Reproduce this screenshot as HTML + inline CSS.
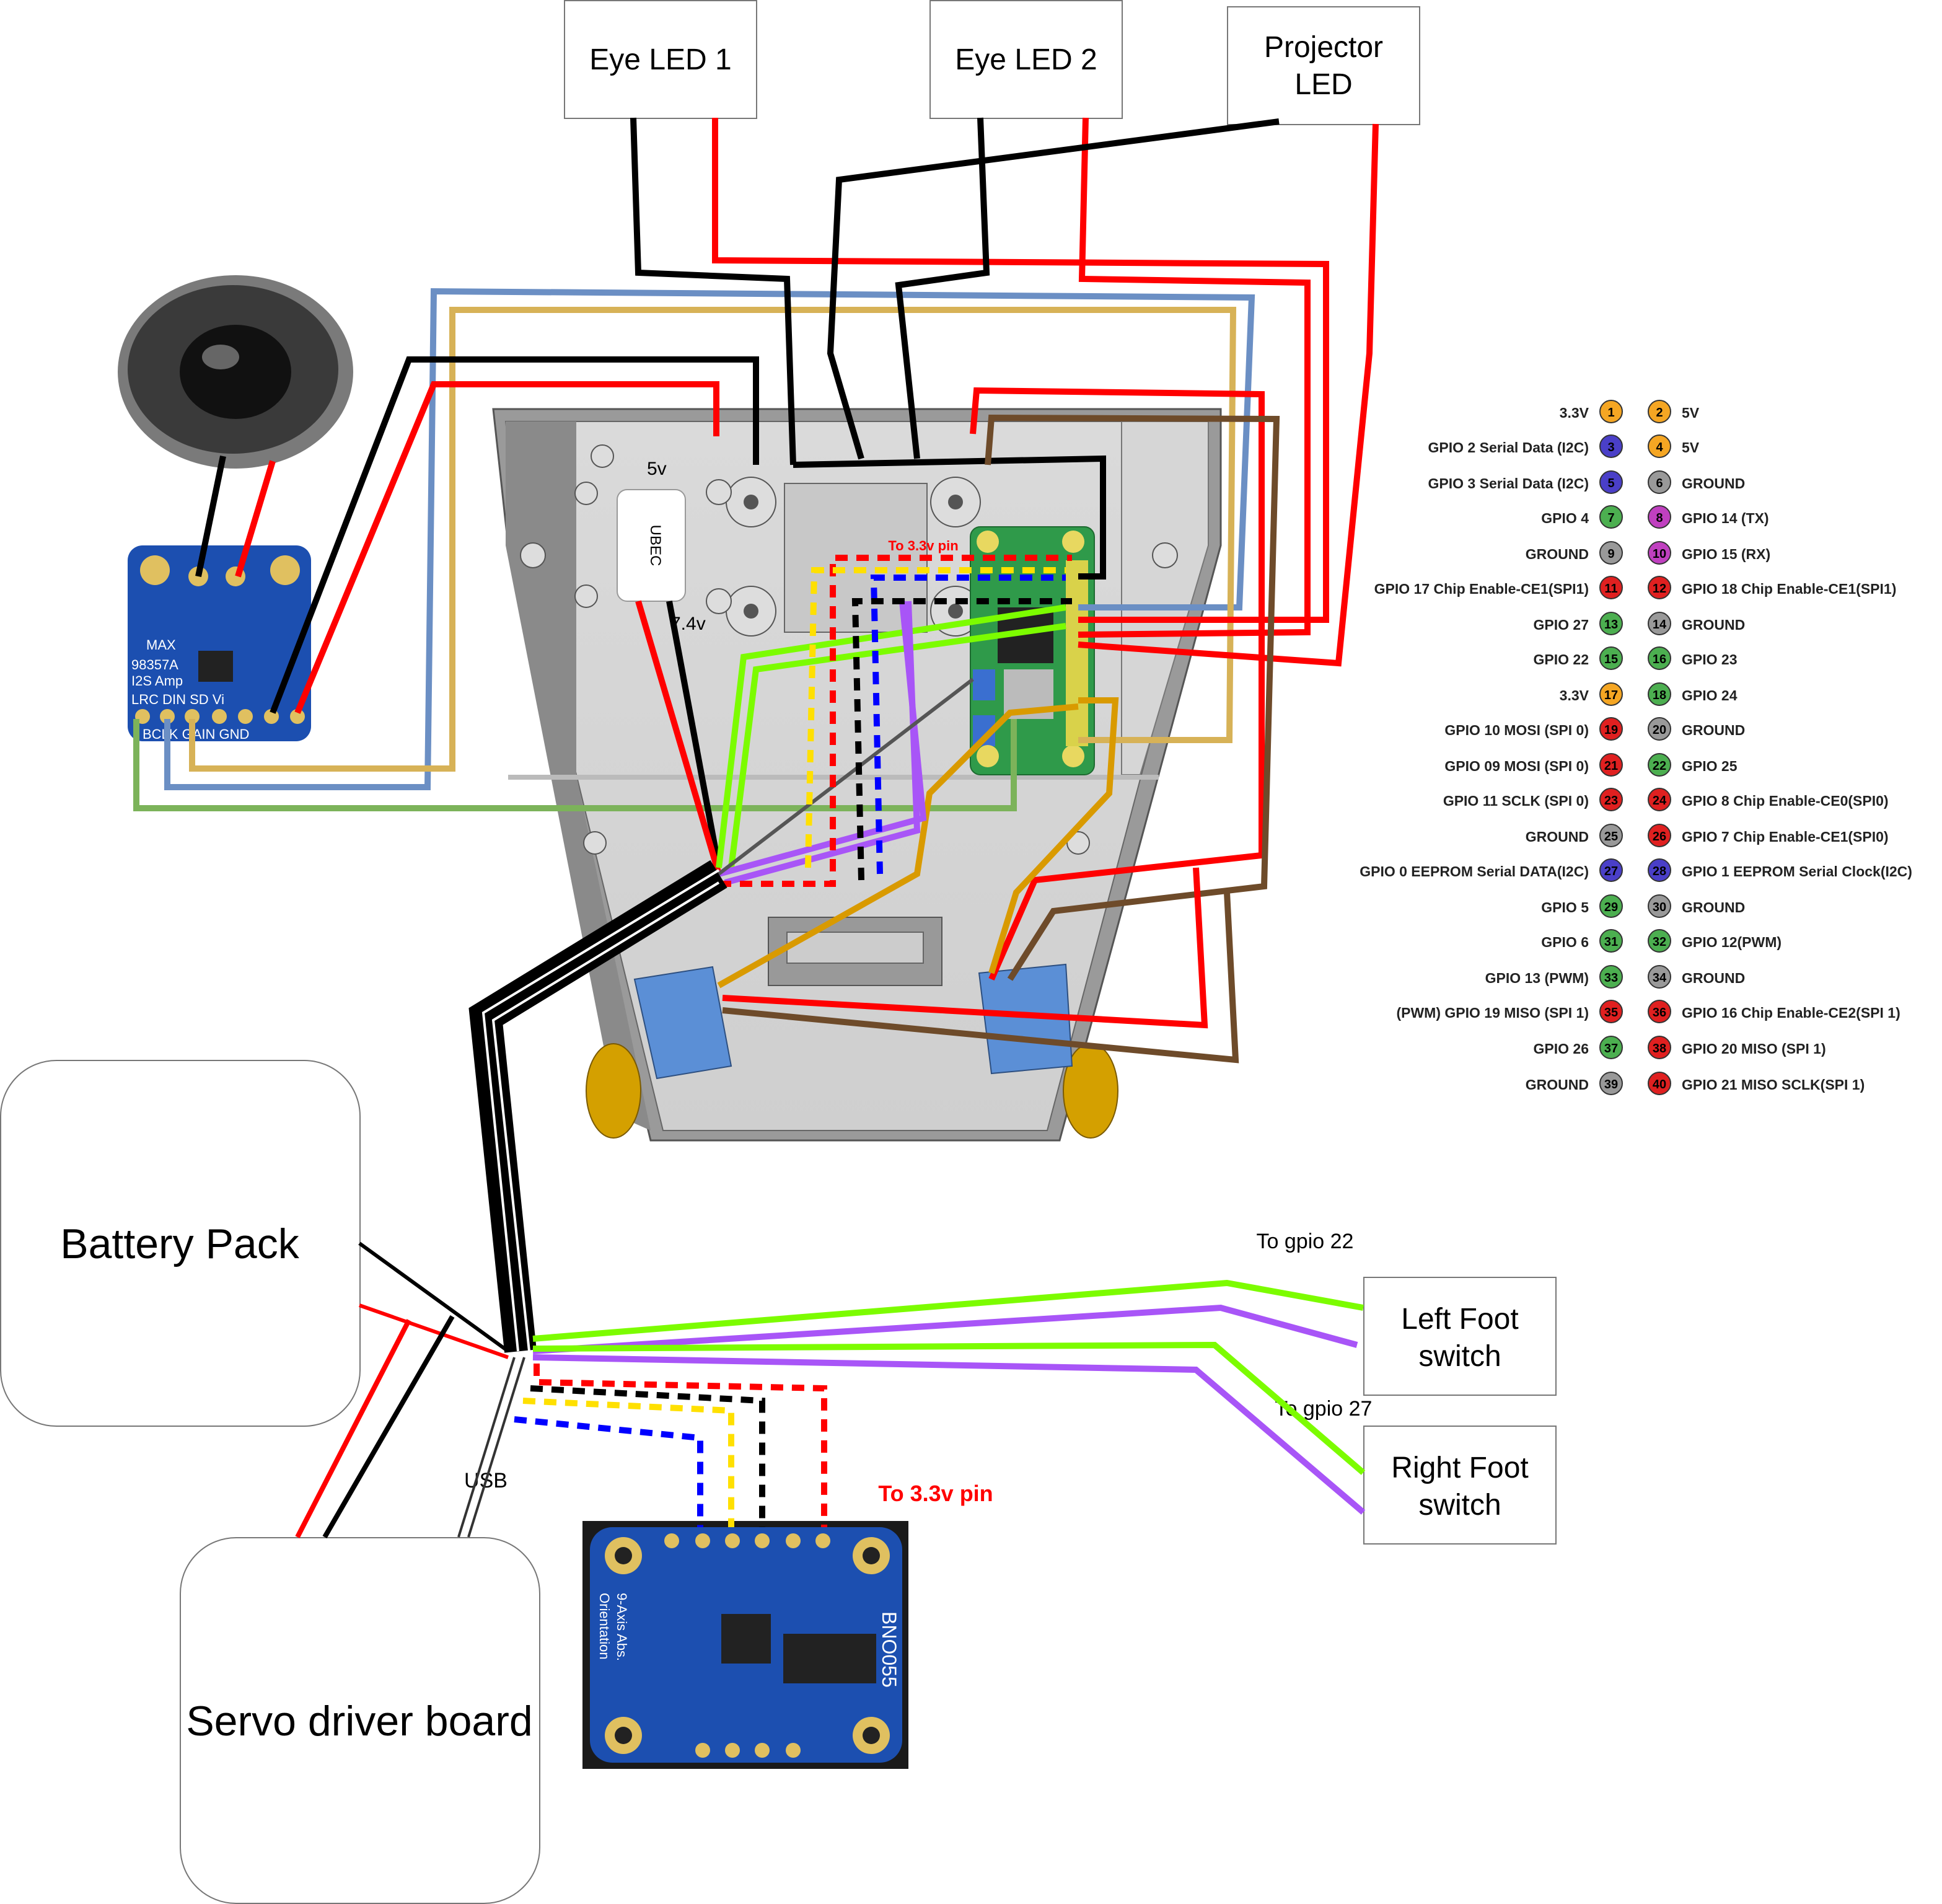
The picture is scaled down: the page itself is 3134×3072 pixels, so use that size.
<!DOCTYPE html>
<html><head><meta charset="utf-8"><style>
html,body{margin:0;padding:0;background:#fff}
svg{display:block}
text{font-family:"Liberation Sans",sans-serif}
.pl{font-size:11.5px;font-weight:bold;fill:#222}
.pn{font-size:10px;font-weight:bold;fill:#000}
</style></head><body>
<svg width="3134" height="3072" viewBox="0 0 1567 1536" xmlns="http://www.w3.org/2000/svg">
<defs>
<linearGradient id="g1" x1="0" y1="0" x2="0" y2="1"><stop offset="0" stop-color="#dadada"/><stop offset="1" stop-color="#cfcfcf"/></linearGradient>
</defs>
<rect width="1567" height="1536" fill="#fff"/>

<!-- Robot body -->
<polygon points="398,330 985,330 985,440 855,920 525,920 410,440" fill="#9a9a9a" stroke="#555" stroke-width="1.5"/>
<polygon points="408,340 975,340 970,440 845,912 535,912 420,440" fill="url(#g1)" stroke="#666"/>
<polygon points="408,340 465,340 465,625 525,912 498,900 408,440" fill="#8a8a8a"/>
<polygon points="905,340 975,340 975,440 920,625 905,625" fill="#d6d6d6" stroke="#777"/>
<rect x="410" y="625" width="525" height="4" fill="#bbb"/>
<rect x="620" y="740" width="140" height="55" fill="#999" stroke="#555"/>
<rect x="635" y="752" width="110" height="25" fill="#ccc" stroke="#666"/>
<rect x="633" y="390" width="115" height="120" fill="#c8c8c8" stroke="#666"/>
<g fill="#ddd" stroke="#555">
<circle cx="606" cy="405" r="20"/><circle cx="771" cy="405" r="20"/><circle cx="606" cy="493" r="20"/><circle cx="771" cy="493" r="20"/>
<circle cx="580" cy="397" r="10"/><circle cx="580" cy="485" r="10"/><circle cx="473" cy="398" r="9"/><circle cx="473" cy="481" r="9"/>
<circle cx="486" cy="368" r="9"/><circle cx="430" cy="448" r="10"/><circle cx="940" cy="448" r="10"/><circle cx="480" cy="680" r="9"/><circle cx="870" cy="680" r="9"/>
</g>
<g fill="#555"><circle cx="606" cy="405" r="6"/><circle cx="771" cy="405" r="6"/><circle cx="606" cy="493" r="6"/><circle cx="771" cy="493" r="6"/></g>
<!-- wheels -->
<ellipse cx="495" cy="880" rx="22" ry="38" fill="#d4a000" stroke="#7a5a00"/>
<ellipse cx="880" cy="880" rx="22" ry="38" fill="#d4a000" stroke="#7a5a00"/>
<!-- servos -->
<polygon points="512,790 575,780 590,860 530,870" fill="#5b8fd6" stroke="#2d4f80"/>
<polygon points="790,785 860,778 865,860 800,866" fill="#5b8fd6" stroke="#2d4f80"/>

<!-- UBEC -->
<rect x="498" y="395" width="55" height="90" rx="8" fill="#fff" stroke="#999"/>
<text x="525" y="440" font-size="12" text-anchor="middle" transform="rotate(90 525 440)">UBEC</text>
<text x="522" y="383" font-size="15">5v</text>
<text x="541" y="508" font-size="15">7.4v</text>

<!-- Pi zero -->
<rect x="783" y="425" width="100" height="200" rx="8" fill="#2f9a4a" stroke="#1d6a30"/>
<rect x="805" y="490" width="45" height="45" fill="#222"/>
<rect x="810" y="540" width="40" height="40" fill="#bbb"/>
<rect x="785" y="540" width="18" height="25" fill="#3a6fd0"/><rect x="785" y="577" width="18" height="25" fill="#3a6fd0"/>
<g fill="#e8d860"><circle cx="797" cy="437" r="9"/><circle cx="866" cy="437" r="9"/><circle cx="797" cy="610" r="9"/><circle cx="866" cy="610" r="9"/></g>
<rect x="860" y="452" width="18" height="150" fill="#d9d24a"/>

<!-- Speaker -->
<ellipse cx="190" cy="300" rx="95" ry="78" fill="#7a7a7a"/>
<ellipse cx="188" cy="298" rx="85" ry="68" fill="#3a3a3a"/>
<ellipse cx="190" cy="300" rx="45" ry="38" fill="#111"/>
<ellipse cx="178" cy="288" rx="15" ry="10" fill="#666"/>

<!-- Amp board -->
<rect x="103" y="440" width="148" height="158" rx="12" fill="#1c4fb0"/>
<g fill="#e0c060"><circle cx="125" cy="460" r="12"/><circle cx="230" cy="460" r="12"/><circle cx="160" cy="465" r="8"/><circle cx="190" cy="465" r="8"/></g>
<rect x="160" y="525" width="28" height="25" fill="#222"/>
<g fill="#fff" font-family="Liberation Mono" font-size="11"><text x="118" y="524">MAX</text><text x="106" y="540">98357A</text><text x="106" y="553">I2S Amp</text><text x="106" y="568">LRC  DIN  SD   Vi</text><text x="115" y="596">BCLK GAIN  GND</text></g>
<g fill="#e0c060"><circle cx="115" cy="578" r="6"/><circle cx="135" cy="578" r="6"/><circle cx="155" cy="578" r="6"/><circle cx="177" cy="578" r="6"/><circle cx="198" cy="578" r="6"/><circle cx="219" cy="578" r="6"/><circle cx="240" cy="578" r="6"/></g>

<!-- BNO055 -->
<rect x="470" y="1227" width="263" height="200" fill="#1a1a1a"/>
<rect x="476" y="1232" width="252" height="190" rx="18" fill="#1c4fb0"/>
<g fill="#e0c060"><circle cx="503" cy="1255" r="15"/><circle cx="703" cy="1255" r="15"/><circle cx="503" cy="1400" r="15"/><circle cx="703" cy="1400" r="15"/></g>
<g fill="#222"><circle cx="503" cy="1255" r="7"/><circle cx="703" cy="1255" r="7"/><circle cx="503" cy="1400" r="7"/><circle cx="703" cy="1400" r="7"/></g>
<rect x="582" y="1302" width="40" height="40" fill="#222"/><rect x="632" y="1318" width="75" height="40" fill="#222"/>
<g fill="#e0c060"><circle cx="542" cy="1243" r="6"/><circle cx="567" cy="1243" r="6"/><circle cx="591" cy="1243" r="6"/><circle cx="615" cy="1243" r="6"/><circle cx="640" cy="1243" r="6"/><circle cx="664" cy="1243" r="6"/>
<circle cx="567" cy="1412" r="6"/><circle cx="591" cy="1412" r="6"/><circle cx="615" cy="1412" r="6"/><circle cx="640" cy="1412" r="6"/></g>
<text x="712" y="1300" fill="#fff" font-size="16" transform="rotate(90 712 1300)">BNO055</text>
<text x="498" y="1285" fill="#fff" font-size="11" font-family="Liberation Mono" transform="rotate(90 498 1285)">9-Axis Abs.</text>
<text x="484" y="1285" fill="#fff" font-size="11" font-family="Liberation Mono" transform="rotate(90 484 1285)">Orientation</text>

<!-- Boxes -->
<g fill="#fff" stroke="#777" stroke-width="1">
<rect x="455.5" y="0.5" width="155" height="95"/>
<rect x="750.5" y="0.5" width="155" height="95"/>
<rect x="990.5" y="5.5" width="155" height="95"/>
<rect x="1100.5" y="1030.5" width="155" height="95"/>
<rect x="1100.5" y="1150.5" width="155" height="95"/>
<rect x="0.5" y="855.5" width="290" height="295" rx="45"/>
<rect x="145.5" y="1240.5" width="290" height="295" rx="45"/>
</g>
<g font-size="24" text-anchor="middle" fill="#000">
<text x="533" y="56">Eye LED 1</text><text x="828" y="56">Eye LED 2</text>
<text x="1068" y="46">Projector</text><text x="1068" y="76">LED</text>
<text x="1178" y="1072">Left Foot</text><text x="1178" y="1102">switch</text>
<text x="1178" y="1192">Right Foot</text><text x="1178" y="1222">switch</text>
</g>
<text x="145" y="1015" font-size="34" text-anchor="middle">Battery Pack</text>
<text x="290" y="1400" font-size="34" text-anchor="middle">Servo driver board</text>
<text x="1053" y="1007" font-size="17" text-anchor="middle">To gpio 22</text>
<text x="1068" y="1142" font-size="17" text-anchor="middle">To gpio 27</text>
<text x="392" y="1200" font-size="17" text-anchor="middle">USB</text>
<text x="755" y="1211" font-size="18" font-weight="bold" fill="#f00" text-anchor="middle">To 3.3v pin</text>
<text x="745" y="444" font-size="11" font-weight="bold" fill="#f00" text-anchor="middle">To 3.3v pin</text>

<!-- Wires -->
<g fill="none" stroke-width="5" stroke-linejoin="miter">
<polyline stroke="#6b8fc4" points="870,490 1000,490 1010,240 350,235 345,635 135,635 135,580"/>
<polyline stroke="#d7b257" points="870,597 992,597 995,250 365,250 365,620 155,620 155,580"/>
<polyline stroke="#7cb35a" points="110,580 110,652 818,652 818,580"/>
<polyline stroke="#000" points="511,95 515,220 635,225 640,375"/>
<polyline stroke="#f00" points="577,95 577,210 1070,213 1070,500 870,500"/>
<polyline stroke="#000" points="791,95 796,220 725,230 740,370"/>
<polyline stroke="#f00" points="876,95 873,225 1055,228 1055,510 870,512"/>
<polyline stroke="#000" points="1032,98 677,145 670,285 695,370"/>
<polyline stroke="#f00" points="1110,100 1105,285 1080,535 870,520"/>
<polyline stroke="#000" points="610,375 610,290 330,290 220,575"/>
<polyline stroke="#f00" points="240,575 350,310 578,310 578,352"/>
<polyline stroke="#000" points="640,375 890,370 890,465 870,465"/>
<polyline stroke="#f00" points="785,350 788,315 1018,318 1018,690 835,710 800,790"/>
<polyline stroke="#6e4b2a" points="797,375 800,337 1030,338 1020,715 850,735 815,790"/>
<polyline stroke="#f00" points="583,805 972,827 965,700"/>
<polyline stroke="#6e4b2a" points="583,815 997,855 990,720"/>
<polyline stroke="#000" points="540,485 580,700"/>
<polyline stroke="#f00" points="515,485 580,705"/>
<polyline stroke="#d99a00" points="580,795 740,705 750,640 815,575 870,570"/>
<polyline stroke="#d99a00" points="800,785 820,720 895,640 900,565 870,565"/>
<polyline stroke="#7cfc00" points="580,700 600,530 860,490"/>
<polyline stroke="#7cfc00" points="590,700 610,540 860,505"/>
<polyline stroke="#a855f7" points="580,705 745,660 728,485"/>
<polyline stroke="#a855f7" points="585,712 740,670 733,485"/>
<polyline stroke="#555" stroke-width="3" points="580,705 785,548"/>
<g stroke-dasharray="10,7">
<polyline stroke="#f00" points="580,713 672,713 672,450 865,450"/>
<polyline stroke="#ffe000" points="652,700 657,460 860,460"/>
<polyline stroke="#00f" points="710,705 705,466 860,466"/>
<polyline stroke="#000" points="695,710 690,485 865,485"/>
<polyline stroke="#f00" points="433,1100 433,1115 665,1120 665,1232"/>
<polyline stroke="#000" points="428,1120 615,1130 615,1232"/>
<polyline stroke="#ffe000" points="422,1130 590,1138 590,1232"/>
<polyline stroke="#00f" points="415,1145 565,1160 565,1232"/>
</g>
<!-- thick cable -->
<polyline stroke="#000" stroke-width="26" points="580,705 392,820 420,1090"/>
<polyline stroke="#fff" stroke-width="2" points="580,702 390,817 418,1090"/>
<polyline stroke="#fff" stroke-width="2" points="580,712 398,823 427,1090"/>
<polyline stroke="#000" stroke-width="3" points="290,1003 410,1090"/>
<polyline stroke="#f00" stroke-width="3" points="290,1053 410,1095"/>
<polyline stroke="#f00" stroke-width="4" points="240,1240 330,1065"/>
<polyline stroke="#000" stroke-width="4" points="262,1240 365,1062"/>
<polyline stroke="#333" stroke-width="2" points="370,1240 415,1095"/>
<polyline stroke="#333" stroke-width="2" points="378,1240 423,1095"/>
<polyline stroke="#a855f7" points="1095,1085 985,1055 430,1090"/>
<polyline stroke="#7cfc00" points="1100,1055 990,1035 430,1080"/>
<polyline stroke="#7cfc00" points="1100,1188 980,1085 430,1088"/>
<polyline stroke="#a855f7" points="1100,1220 965,1105 430,1095"/>
</g>
<line x1="180" y1="368" x2="160" y2="465" stroke="#000" stroke-width="5"/>
<line x1="220" y1="372" x2="192" y2="465" stroke="#f00" stroke-width="5"/>

<!-- Pinout -->
<g>
<g class="pl" text-anchor="end">
<text x="1282" y="337">3.3V</text><text x="1282" y="365">GPIO 2 Serial Data (I2C)</text><text x="1282" y="394">GPIO 3 Serial Data (I2C)</text><text x="1282" y="422">GPIO 4</text><text x="1282" y="451">GROUND</text><text x="1282" y="479">GPIO 17 Chip Enable-CE1(SPI1)</text><text x="1282" y="508">GPIO 27</text><text x="1282" y="536">GPIO 22</text><text x="1282" y="565">3.3V</text><text x="1282" y="593">GPIO 10 MOSI (SPI 0)</text><text x="1282" y="622">GPIO 09 MOSI (SPI 0)</text><text x="1282" y="650">GPIO 11 SCLK (SPI 0)</text><text x="1282" y="679">GROUND</text><text x="1282" y="707">GPIO 0 EEPROM Serial DATA(I2C)</text><text x="1282" y="736">GPIO 5</text><text x="1282" y="764">GPIO 6</text><text x="1282" y="793">GPIO 13 (PWM)</text><text x="1282" y="821">(PWM) GPIO 19 MISO (SPI 1)</text><text x="1282" y="850">GPIO 26</text><text x="1282" y="879">GROUND</text>
</g>
<g class="pl">
<text x="1357" y="337">5V</text><text x="1357" y="365">5V</text><text x="1357" y="394">GROUND</text><text x="1357" y="422">GPIO 14 (TX)</text><text x="1357" y="451">GPIO 15 (RX)</text><text x="1357" y="479">GPIO 18 Chip Enable-CE1(SPI1)</text><text x="1357" y="508">GROUND</text><text x="1357" y="536">GPIO 23</text><text x="1357" y="565">GPIO 24</text><text x="1357" y="593">GROUND</text><text x="1357" y="622">GPIO 25</text><text x="1357" y="650">GPIO 8 Chip Enable-CE0(SPI0)</text><text x="1357" y="679">GPIO 7 Chip Enable-CE1(SPI0)</text><text x="1357" y="707">GPIO 1 EEPROM Serial Clock(I2C)</text><text x="1357" y="736">GROUND</text><text x="1357" y="764">GPIO 12(PWM)</text><text x="1357" y="793">GROUND</text><text x="1357" y="821">GPIO 16 Chip Enable-CE2(SPI 1)</text><text x="1357" y="850">GPIO 20 MISO (SPI 1)</text><text x="1357" y="879">GPIO 21 MISO SCLK(SPI 1)</text>
</g>
<g stroke="#333" stroke-width="1">
<circle cx="1300" cy="332" r="9" fill="#f5a623"/><circle cx="1339" cy="332" r="9" fill="#f5a623"/>
<circle cx="1300" cy="360" r="9" fill="#4a3fc8"/><circle cx="1339" cy="360" r="9" fill="#f5a623"/>
<circle cx="1300" cy="389" r="9" fill="#4a3fc8"/><circle cx="1339" cy="389" r="9" fill="#999"/>
<circle cx="1300" cy="417" r="9" fill="#4caf50"/><circle cx="1339" cy="417" r="9" fill="#c040c0"/>
<circle cx="1300" cy="446" r="9" fill="#999"/><circle cx="1339" cy="446" r="9" fill="#c040c0"/>
<circle cx="1300" cy="474" r="9" fill="#e02020"/><circle cx="1339" cy="474" r="9" fill="#e02020"/>
<circle cx="1300" cy="503" r="9" fill="#4caf50"/><circle cx="1339" cy="503" r="9" fill="#999"/>
<circle cx="1300" cy="531" r="9" fill="#4caf50"/><circle cx="1339" cy="531" r="9" fill="#4caf50"/>
<circle cx="1300" cy="560" r="9" fill="#f5a623"/><circle cx="1339" cy="560" r="9" fill="#4caf50"/>
<circle cx="1300" cy="588" r="9" fill="#e02020"/><circle cx="1339" cy="588" r="9" fill="#999"/>
<circle cx="1300" cy="617" r="9" fill="#e02020"/><circle cx="1339" cy="617" r="9" fill="#4caf50"/>
<circle cx="1300" cy="645" r="9" fill="#e02020"/><circle cx="1339" cy="645" r="9" fill="#e02020"/>
<circle cx="1300" cy="674" r="9" fill="#999"/><circle cx="1339" cy="674" r="9" fill="#e02020"/>
<circle cx="1300" cy="702" r="9" fill="#4a3fc8"/><circle cx="1339" cy="702" r="9" fill="#4a3fc8"/>
<circle cx="1300" cy="731" r="9" fill="#4caf50"/><circle cx="1339" cy="731" r="9" fill="#999"/>
<circle cx="1300" cy="759" r="9" fill="#4caf50"/><circle cx="1339" cy="759" r="9" fill="#4caf50"/>
<circle cx="1300" cy="788" r="9" fill="#4caf50"/><circle cx="1339" cy="788" r="9" fill="#999"/>
<circle cx="1300" cy="816" r="9" fill="#e02020"/><circle cx="1339" cy="816" r="9" fill="#e02020"/>
<circle cx="1300" cy="845" r="9" fill="#4caf50"/><circle cx="1339" cy="845" r="9" fill="#e02020"/>
<circle cx="1300" cy="874" r="9" fill="#999"/><circle cx="1339" cy="874" r="9" fill="#e02020"/>
</g>
<g class="pn" text-anchor="middle">
<text x="1300" y="336">1</text><text x="1339" y="336">2</text><text x="1300" y="364">3</text><text x="1339" y="364">4</text><text x="1300" y="393">5</text><text x="1339" y="393">6</text><text x="1300" y="421">7</text><text x="1339" y="421">8</text><text x="1300" y="450">9</text><text x="1339" y="450">10</text><text x="1300" y="478">11</text><text x="1339" y="478">12</text><text x="1300" y="507">13</text><text x="1339" y="507">14</text><text x="1300" y="535">15</text><text x="1339" y="535">16</text><text x="1300" y="564">17</text><text x="1339" y="564">18</text><text x="1300" y="592">19</text><text x="1339" y="592">20</text><text x="1300" y="621">21</text><text x="1339" y="621">22</text><text x="1300" y="649">23</text><text x="1339" y="649">24</text><text x="1300" y="678">25</text><text x="1339" y="678">26</text><text x="1300" y="706">27</text><text x="1339" y="706">28</text><text x="1300" y="735">29</text><text x="1339" y="735">30</text><text x="1300" y="763">31</text><text x="1339" y="763">32</text><text x="1300" y="792">33</text><text x="1339" y="792">34</text><text x="1300" y="820">35</text><text x="1339" y="820">36</text><text x="1300" y="849">37</text><text x="1339" y="849">38</text><text x="1300" y="878">39</text><text x="1339" y="878">40</text>
</g>
</g>
</svg>
</body></html>
